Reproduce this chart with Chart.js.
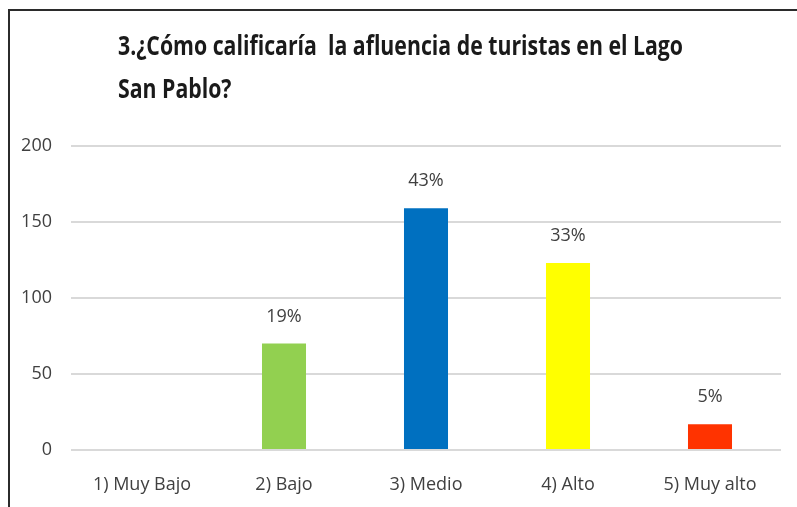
<!DOCTYPE html>
<html>
<head>
<meta charset="utf-8">
<script src="https://cdn.jsdelivr.net/npm/chart.js@4"></script>
<style>
  html, body { margin: 0; padding: 0; background: #fff; }
  #wrap { position: relative; width: 797px; height: 507px; }
</style>
</head>
<body>
<div id="wrap"><canvas id="chart" width="797" height="507"></canvas></div>
<script>
// --- datos del gráfico ---
const categorias = ['1) Muy Bajo', '2) Bajo', '3) Medio', '4) Alto', '5) Muy alto'];
const respuestas = [0, 70, 159, 123, 17];
const porcentajes = ['', '19%', '43%', '33%', '5%'];
const coloresBarras = ['#a5a5a5', '#92d050', '#0070c0', '#ffff00', '#ff3300'];
const ticksY = [0, 50, 100, 150, 200];
const tituloLineas = ['3.¿Cómo calificaría  la afluencia de turistas en el Lago', 'San Pablo?'];

const fuente = "'Open Sans', sans-serif";

// marco (solo arriba e izquierda, como en la imagen) + título
const marcoYTitulo = {
  id: 'marcoYTitulo',
  beforeDraw(chart) {
    const ctx = chart.ctx;
    ctx.save();
    ctx.fillStyle = '#fff';
    ctx.fillRect(0, 0, chart.width, chart.height);
    ctx.strokeStyle = '#2b2b2b';
    ctx.lineWidth = 2;
    ctx.beginPath();
    ctx.moveTo(9, chart.height);
    ctx.lineTo(9, 10);
    ctx.lineTo(chart.width, 10);
    ctx.stroke();
    ctx.restore();
  },
  afterDraw(chart) {
    const ctx = chart.ctx;
    ctx.save();
    ctx.fillStyle = '#1a1a1a';
    ctx.font = "bold 26px " + fuente;
    ctx.textBaseline = 'middle';
    ctx.textAlign = 'left';
    // la fuente original es más estrecha (Calibri): comprimir en horizontal
    const esc = 565 / ctx.measureText(tituloLineas[0]).width;
    ctx.translate(118, 0);
    ctx.scale(esc, 1);
    ctx.fillText(tituloLineas[0], 0, 48);
    ctx.fillText(tituloLineas[1], 0, 91);
    ctx.restore();
  }
};

// etiquetas de porcentaje sobre cada barra
const etiquetasPct = {
  id: 'etiquetasPct',
  afterDatasetsDraw(chart) {
    const ctx = chart.ctx;
    const meta = chart.getDatasetMeta(0);
    ctx.save();
    ctx.fillStyle = '#404040';
    ctx.font = "18px " + fuente;
    ctx.textAlign = 'center';
    ctx.textBaseline = 'middle';
    meta.data.forEach((bar, i) => {
      if (!porcentajes[i]) return;
      ctx.fillText(porcentajes[i], bar.x, bar.y - 27);
    });
    ctx.restore();
  }
};

new Chart(document.getElementById('chart'), {
  type: 'bar',
  data: {
    labels: categorias,
    datasets: [{
      data: respuestas,
      backgroundColor: coloresBarras,
      borderWidth: 0,
      barPercentage: 0.31,
      categoryPercentage: 1
    }]
  },
  options: {
    responsive: false,
    animation: false,
    layout: { padding: { top: 146, right: 16, bottom: 0, left: 0 } },
    plugins: { legend: { display: false }, tooltip: { enabled: false }, title: { display: false } },
    scales: {
      x: {
        grid: { display: false, drawTicks: false },
        border: { display: false },
        ticks: { color: '#404040', font: { family: fuente, size: 18 }, padding: 24, maxRotation: 0 },
        afterFit(s) { s.height = 57; }
      },
      y: {
        min: 0,
        max: 200,
        afterBuildTicks(s) { s.ticks = ticksY.map(v => ({ value: v })); },
        grid: { color: '#d9d9d9', lineWidth: 2, drawTicks: false },
        border: { display: false },
        ticks: { color: '#404040', font: { family: fuente, size: 18 }, padding: 19 },
        afterFit(s) { s.width = 71; }
      }
    }
  },
  plugins: [marcoYTitulo, etiquetasPct]
});
</script>
</body>
</html>
